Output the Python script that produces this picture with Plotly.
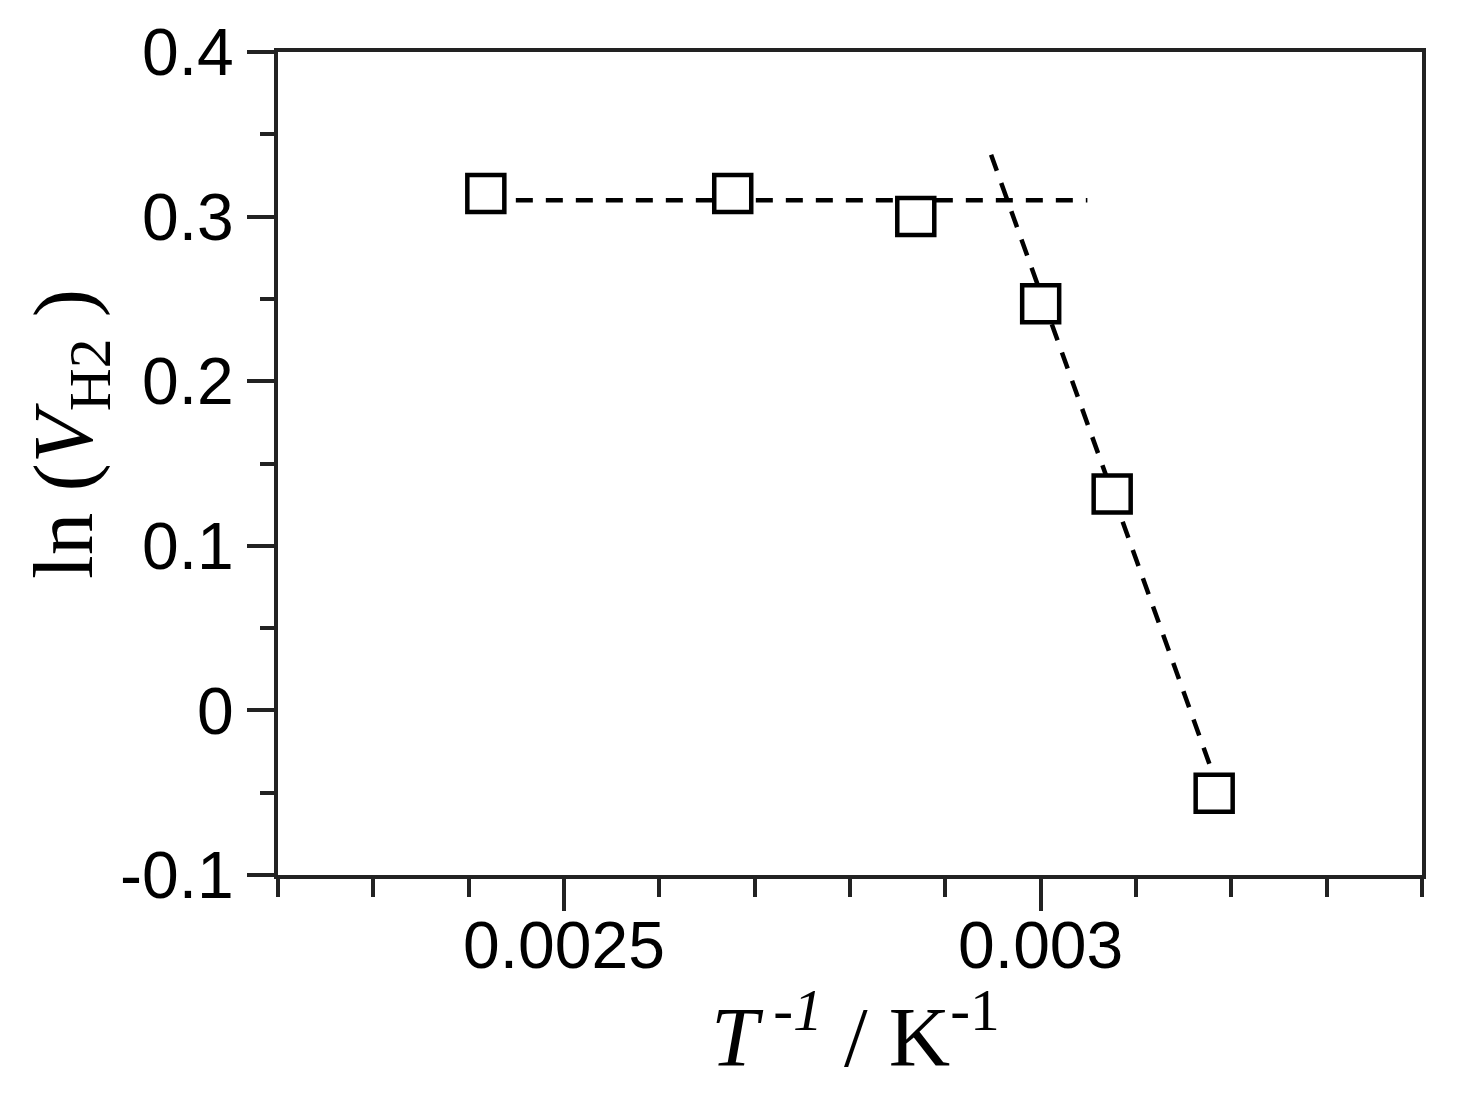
import plotly.graph_objects as go

# inverse temperature (1/K) and ln(V_H2)
inv_t = [0.002418, 0.002677, 0.002869, 0.003000, 0.003075, 0.003182]
ln_vh2 = [0.314, 0.314, 0.300, 0.247, 0.1315, -0.0503]

# guide lines
flat_x = [0.002418, 0.003049]
flat_y = [0.310, 0.310]
steep_x = [0.002948, 0.003188]
steep_y = [0.3376, -0.0503]

# tick labels
x_tickvals = [0.0025, 0.003]
x_ticktext = ["0.0025", "0.003"]
y_tickvals = [-0.1, 0, 0.1, 0.2, 0.3, 0.4]
y_ticktext = ["-0.1", "0", "0.1", "0.2", "0.3", "0.4"]

fig = go.Figure()
dash = dict(color="black", width=4.5, dash="17px,13px")
fig.add_trace(go.Scatter(x=flat_x, y=flat_y, mode="lines", line=dash, showlegend=False))
fig.add_trace(go.Scatter(x=steep_x, y=steep_y, mode="lines", line=dash, showlegend=False))
fig.add_trace(go.Scatter(
    x=inv_t, y=ln_vh2, mode="markers", showlegend=False,
    marker=dict(symbol="square", size=37, color="white",
                line=dict(color="black", width=4.5)),
))

axis_common = dict(
    showgrid=False, zeroline=False, showline=True, linecolor="#222", linewidth=4,
    mirror=True, ticks="outside", tickcolor="#222", tickwidth=4, automargin=False,
    tickfont=dict(family="Liberation Sans, Arial", size=66, color="black"),
)
fig.update_xaxes(
    range=[0.0022, 0.0034], tickvals=x_tickvals, ticktext=x_ticktext, ticklen=32,
    ticklabelstandoff=-22,
    minor=dict(tick0=0.0022, dtick=0.0001, ticklen=18, tickwidth=4, tickcolor="#222", ticks="outside"),
    **axis_common,
)
fig.update_yaxes(
    range=[-0.1, 0.4], tickvals=y_tickvals, ticktext=y_ticktext, ticklen=27,
    minor=dict(tick0=0, dtick=0.05, ticklen=14, tickwidth=4, tickcolor="#222", ticks="outside"),
    **axis_common,
)

title_font = dict(family="Liberation Serif, Times New Roman", size=85, color="black")
fig.add_annotation(
    text="<i>T</i><sup> -<i>1</i></sup> / K<sup>-1</sup>",
    xref="paper", yref="paper", x=0.5044, y=-0.189,
    xanchor="center", yanchor="middle", showarrow=False, font=title_font,
)
fig.add_annotation(
    text="ln (<i>V</i><sub>H2</sub>\u00a0)",
    xref="paper", yref="paper", x=-0.1818, y=0.536, textangle=-90,
    xanchor="center", yanchor="middle", showarrow=False, font=title_font,
)

fig.update_layout(
    width=1453, height=1093,
    margin=dict(l=270, r=39, t=44, b=226),
    plot_bgcolor="white", paper_bgcolor="white",
)
fig.write_html("out.html")
